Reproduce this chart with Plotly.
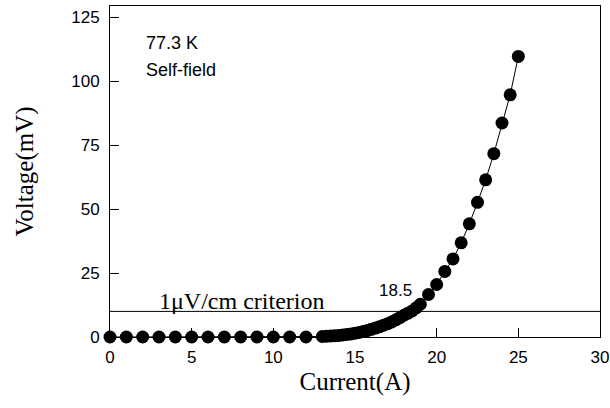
import plotly.graph_objects as go

# Data
current_a = [0, 1, 2, 3, 4, 5, 6, 7, 8, 9, 10, 11, 12,
             13.0, 13.25, 13.5, 13.75, 14.0, 14.25, 14.5, 14.75, 15.0, 15.25, 15.5, 15.75,
             16.0, 16.25, 16.5, 16.75, 17.0, 17.25, 17.5, 17.75, 18.0, 18.25, 18.5, 18.75, 19.0,
             19.5, 20.0, 20.5, 21.0, 21.5, 22.0, 22.5, 23.0, 23.5, 24.0, 24.5, 25.0]
voltage_mv = [0, 0, 0, 0, 0, 0, 0, 0, 0, 0, 0, 0, 0,
              0.2, 0.3, 0.4, 0.5, 0.6, 0.8, 1.0, 1.2, 1.5, 1.8, 2.1, 2.5,
              3.0, 3.5, 4.0, 4.6, 5.2, 5.9, 6.7, 7.6, 8.5, 9.3, 10.2, 11.4, 12.8,
              16.6, 20.5, 25.6, 30.5, 36.8, 44.2, 52.6, 61.4, 71.6, 83.6, 94.6, 109.6]

criterion_x = [0, 30]
criterion_v = [10, 10]

x_ticks = [0, 5, 10, 15, 20, 25, 30]
y_ticks = [0, 25, 50, 75, 100, 125]

fig = go.Figure()
fig.add_trace(go.Scatter(x=criterion_x, y=criterion_v, mode="lines",
                         line=dict(color="black", width=1), showlegend=False,
                         cliponaxis=False, hoverinfo="skip"))
fig.add_trace(go.Scatter(x=current_a, y=voltage_mv, mode="lines+markers",
                         line=dict(color="black", width=1),
                         marker=dict(color="black", size=13),
                         showlegend=False, cliponaxis=False))

sans = "Liberation Sans, Arial, sans-serif"
serif = "Liberation Serif, Times New Roman, serif"

fig.add_annotation(x=2.1, y=114.8, text="77.3 K", showarrow=False, xanchor="left",
                   font=dict(family=sans, size=18, color="black"))
fig.add_annotation(x=2.1, y=104.3, text="Self-field", showarrow=False, xanchor="left",
                   font=dict(family=sans, size=18, color="black"))
fig.add_annotation(x=2.9, y=14.2, text="1μV/cm criterion", showarrow=False, xanchor="left",
                   font=dict(family=serif, size=24, color="black"))
fig.add_annotation(x=17.45, y=18.0, text="18.5", showarrow=False,
                   font=dict(family=sans, size=17, color="black"))

fig.update_xaxes(range=[0, 30], tickvals=x_ticks, ticks="inside", ticklen=9,
                 tickcolor="black", showline=True, linecolor="black", linewidth=1,
                 mirror=True, showgrid=False, zeroline=False, automargin=False,
                 ticklabelstandoff=5, ticklabeloverflow="allow",
                 tickfont=dict(family=sans, size=17, color="black"),
                 title=dict(text="Current(A)", font=dict(family=serif, size=25, color="black"),
                            standoff=6))
fig.update_yaxes(range=[0, 129.3], tickvals=y_ticks, ticks="inside", ticklen=9,
                 tickcolor="black", showline=True, linecolor="black", linewidth=1,
                 mirror=True, showgrid=False, zeroline=False, automargin=False,
                 ticklabelstandoff=6, ticklabeloverflow="allow",
                 tickfont=dict(family=sans, size=17, color="black"),
                 title=dict(text="Voltage(mV)", font=dict(family=serif, size=25, color="black"),
                            standoff=30))

fig.update_layout(width=610, height=408, plot_bgcolor="white", paper_bgcolor="white",
                  margin=dict(l=110, r=10, t=6, b=71))

# remove the default page margin so the figure sits at the window's top-left corner
fig.write_html("out.html", config={"displayModeBar": False},
               post_script="document.body.style.margin='0px';document.body.style.overflow='hidden';")
